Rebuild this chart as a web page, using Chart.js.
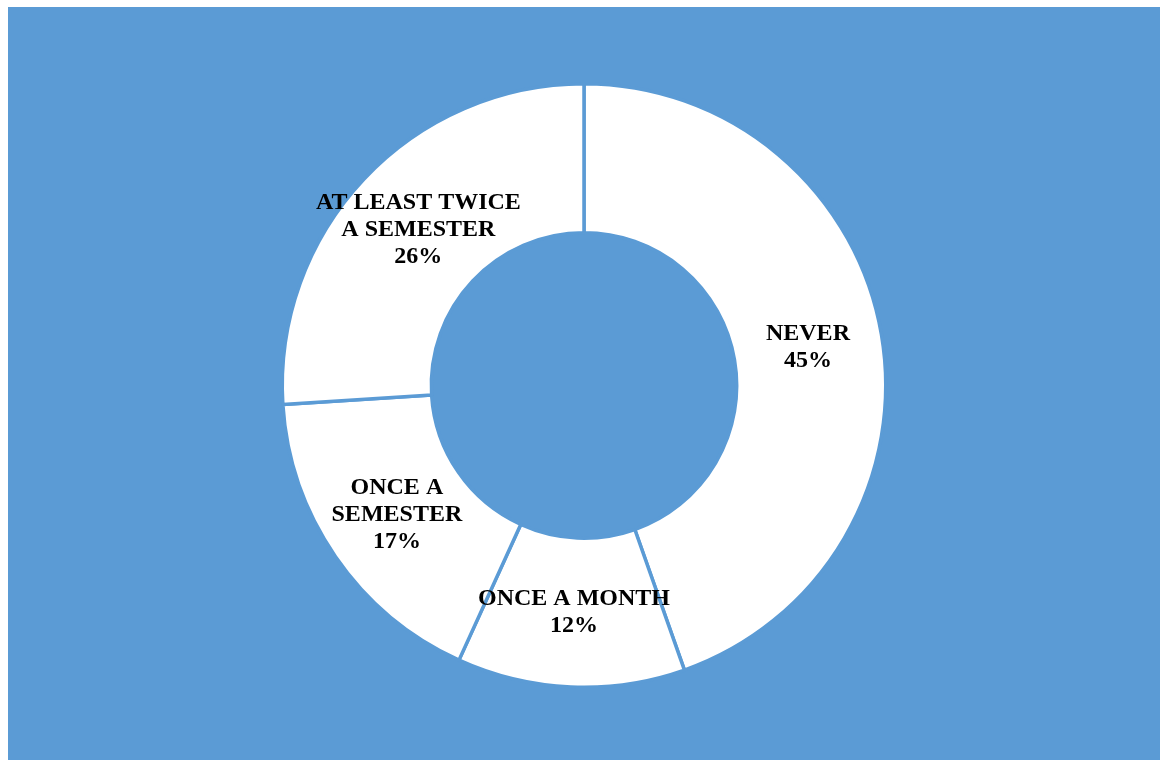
<!DOCTYPE html>
<html>
<head>
<meta charset="utf-8">
<script src="https://cdn.jsdelivr.net/npm/chart.js@4"></script>
<style>
  body { margin: 0; background: #fff; }
  .panel { position: absolute; left: 8px; top: 7px; width: 1152px; height: 753px; background: #5b9bd5; }
</style>
</head>
<body>
<div class="panel"><canvas id="donut"></canvas></div>
<script>
// categories and shares (percent)
const labels = ["NEVER", "ONCE A MONTH", "ONCE A SEMESTER", "AT LEAST TWICE A SEMESTER"];
const labelLines = [["NEVER"], ["ONCE A MONTH"], ["ONCE A", "SEMESTER"], ["AT LEAST TWICE", "A SEMESTER"]];
const shares = [44.6, 12.2, 17.2, 26.0];

const BLUE = "#5b9bd5";

// writes the label + percent at the middle of each slice
const sliceLabels = {
    id: "sliceLabels",
    afterDatasetsDraw(chart) {
        const c = chart.ctx;
        const meta = chart.getDatasetMeta(0);
        const total = shares.reduce((a, b) => a + b, 0);
        c.save();
        c.font = "bold 24px 'Liberation Serif', 'Times New Roman', serif";
        c.fillStyle = "#000";
        c.textAlign = "center";
        c.textBaseline = "middle";
        meta.data.forEach((arc, i) => {
            const p = arc.getCenterPoint();
            const pct = Math.round(shares[i] / total * 100) + "%";
            const lines = labelLines[i].concat([pct]);
            const lh = 27;
            const y0 = p.y - (lines.length - 1) * lh / 2;
            lines.forEach((t, j) => c.fillText(t, p.x, y0 + j * lh));
        });
        c.restore();
    },
};

new Chart(document.getElementById("donut"), {
    type: "doughnut",
    data: {
        labels: labels,
        datasets: [
            {
                data: shares,
                backgroundColor: "#ffffff",
                borderColor: BLUE,
                borderWidth: 3.5,
            },
        ],
    },
    options: {
        responsive: true,
        maintainAspectRatio: false,
        animation: false,
        cutout: "50.6%",
        layout: {
            padding: { top: 75, bottom: 71 },
        },
        plugins: {
            legend: { display: false },
            tooltip: { enabled: false },
        },
    },
    plugins: [sliceLabels],
});
</script>
</body>
</html>
